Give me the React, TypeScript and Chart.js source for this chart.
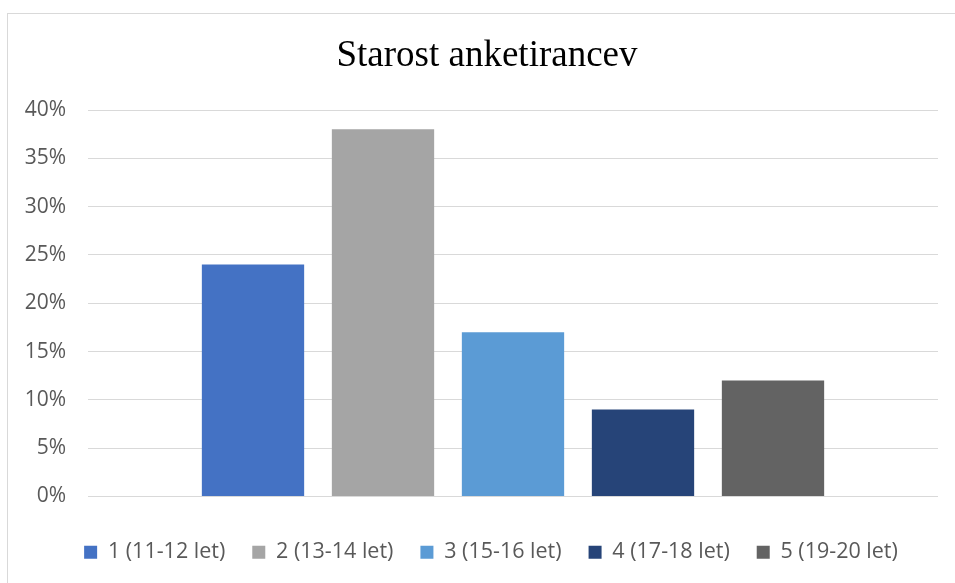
import React, { useEffect, useRef } from "react";
import { Chart, registerables } from "chart.js";

Chart.register(...registerables);

const categories = ["Starost"];
const seriesLabels = ["1 (11-12 let)", "2 (13-14 let)", "3 (15-16 let)", "4 (17-18 let)", "5 (19-20 let)"];
const seriesValues = [24, 38, 17, 9, 12];
const seriesColors = ["#4472C4", "#A5A5A5", "#5B9BD5", "#264478", "#636363"];
const yTicks = { min: 0, max: 40, step: 5 };
const titleText = "Starost anketirancev";

// lets the y-axis labels use the space left of the axis box (avoids clipping)
// and nudges the legend row to its place
const layoutTweaks = {
  id: "layoutTweaks",
  afterLayout(chart: any) {
    const y = chart.scales.y;
    if (y) {
      y.left = 0;
      y.width = y.right;
    }
    const lg = chart.legend;
    if (lg) {
      lg.left += 4;
      lg.right += 4;
    }
  },
};

export default function App() {
  const ref = useRef<HTMLCanvasElement | null>(null);

  useEffect(() => {
    if (!ref.current) return;
    const chart = new Chart(ref.current, {
      type: "bar",
      data: {
        labels: categories,
        datasets: seriesLabels.map((label, i) => ({
          label,
          data: [seriesValues[i]],
          backgroundColor: seriesColors[i],
          borderWidth: 0,
          categoryPercentage: 0.7647,
          barPercentage: 0.787,
        })),
      },
      options: {
        animation: false,
        responsive: false,
        maintainAspectRatio: false,
        layout: { padding: { left: 28, right: 17, top: 0, bottom: 10 } },
        plugins: {
          tooltip: { enabled: false },
          title: {
            display: true,
            text: titleText,
            color: "#000000",
            font: { family: "'Liberation Serif', 'Times New Roman', serif", size: 37, weight: "normal" },
            padding: { top: 20.4, bottom: 31.2 },
          },
          legend: {
            display: true,
            position: "bottom",
            labels: {
              boxWidth: 13,
              boxHeight: 13,
              padding: 27,
              color: "#595959",
              font: { family: "'Open Sans', sans-serif", size: 21.5 },
            },
          },
        },
        scales: {
          x: {
            display: true,
            grid: { display: false },
            border: { display: false },
            ticks: { display: false },
            afterFit: (s: any) => {
              s.height = 18;
            },
          },
          y: {
            min: yTicks.min,
            max: yTicks.max,
            grid: { color: "#d9d9d9", lineWidth: 1, drawTicks: false },
            border: { display: false },
            ticks: {
              stepSize: yTicks.step,
              padding: 22,
              color: "#595959",
              font: { family: "'Open Sans', sans-serif", size: 21 },
              callback: (v: any) => `${v}%`,
            },
            afterFit: (s: any) => {
              s.width = 52;
            },
          },
        },
      },
      plugins: [layoutTweaks],
    });
    return () => chart.destroy();
  }, []);

  return (
    <div style={{ position: "fixed", left: 0, top: 0, width: 955, height: 583, overflow: "hidden", background: "#fff" }}>
      <div
        style={{
          position: "absolute",
          left: 7,
          top: 13,
          width: 1000,
          height: 620,
          border: "1px solid #d9d9d9",
          boxSizing: "border-box",
        }}
      >
        <canvas ref={ref} width={947} height={569} style={{ position: "absolute", left: 0, top: 0, width: 947, height: 569 }} />
      </div>
    </div>
  );
}
